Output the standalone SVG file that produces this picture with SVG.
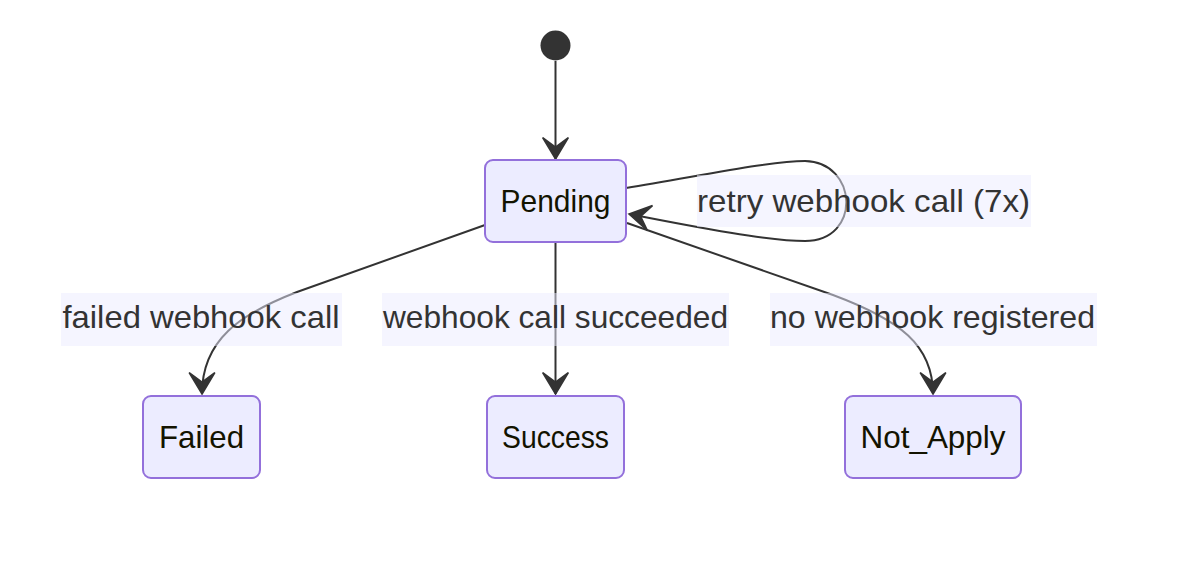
<svg xmlns="http://www.w3.org/2000/svg" width="1192" height="564" viewBox="0 0 1192 564">
<style>
.node rect{fill:#ECECFF;stroke:#9370DB;stroke-width:2}
.node text{font-family:"Liberation Sans",Arial,sans-serif;font-size:32px;fill:#131300;text-anchor:middle}
.edge{fill:none;stroke:#333;stroke-width:2}
.lbl rect{fill:#ECECFF;opacity:0.5}
.lbl text{font-family:"Liberation Sans",Arial,sans-serif;font-size:32px;fill:#333;text-anchor:middle}
</style>
<defs>
<marker id="arr" markerUnits="userSpaceOnUse" markerWidth="30" markerHeight="30" viewBox="-22 -14 24 28" refX="0" refY="0" orient="auto">
<path d="M0,0 L-20,-12 L-11,0 L-20,12 Z" fill="#333" stroke="#333" stroke-width="1.5" stroke-linejoin="miter"/>
</marker>
</defs>
<rect width="1192" height="564" fill="#fff"/>
<g id="connectors">
<path class="edge" d="M555.5,61 L555.5,159" marker-end="url(#arr)"/>
<path class="edge" d="M626,188 C700,176 770,161 805,161 C858,162 862,241 805,241 C770,241 700,228 629,214" marker-end="url(#arr)"/>
<path class="edge" d="M485,225 L297,292 C240,314 202,340 202,394" marker-end="url(#arr)"/>
<path class="edge" d="M555.5,242 L555.5,394" marker-end="url(#arr)"/>
<path class="edge" d="M627,223 L833,295 C900,320 933,345 933,394" marker-end="url(#arr)"/>
</g>
<g id="edge-labels">
<g class="lbl" id="lbl-retry"><rect x="697" y="175" width="334" height="52"/><text x="863.5" y="212" textLength="333" lengthAdjust="spacingAndGlyphs">retry webhook call (7x)</text></g>
<g class="lbl" id="lbl-failed"><rect x="61" y="293" width="281" height="53"/><text x="201" y="328" textLength="277" lengthAdjust="spacingAndGlyphs">failed webhook call</text></g>
<g class="lbl" id="lbl-success"><rect x="382" y="293" width="347" height="53"/><text x="555.5" y="328" textLength="345" lengthAdjust="spacingAndGlyphs">webhook call succeeded</text></g>
<g class="lbl" id="lbl-noapply"><rect x="770" y="293" width="327" height="53"/><text x="932.5" y="328" textLength="325" lengthAdjust="spacingAndGlyphs">no webhook registered</text></g>
</g>
<g id="start"><circle cx="555.5" cy="45.5" r="15" fill="#333"/></g>
<g id="Pending" class="node"><rect x="485" y="160" width="141" height="82" rx="8"/><text x="555.5" y="212" textLength="110" lengthAdjust="spacingAndGlyphs">Pending</text></g>
<g id="Failed" class="node"><rect x="143" y="396" width="117" height="82" rx="8"/><text x="201.5" y="448" textLength="85" lengthAdjust="spacingAndGlyphs">Failed</text></g>
<g id="Success" class="node"><rect x="487" y="396" width="137" height="82" rx="8"/><text x="555.5" y="448" textLength="107" lengthAdjust="spacingAndGlyphs">Success</text></g>
<g id="Not_Apply" class="node"><rect x="845" y="396" width="176" height="82" rx="8"/><text x="933" y="448" textLength="145" lengthAdjust="spacingAndGlyphs">Not_Apply</text></g>
</svg>
